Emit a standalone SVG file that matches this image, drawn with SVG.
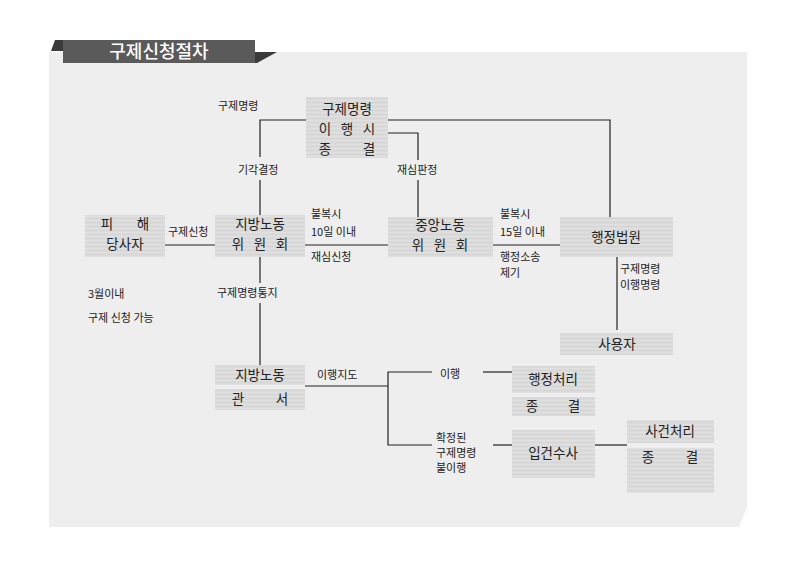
<svg xmlns="http://www.w3.org/2000/svg" width="800" height="570" viewBox="0 0 800 570">
<defs>
<pattern id="stripe" width="8" height="4" patternUnits="userSpaceOnUse">
<rect width="8" height="4" fill="#dbdbdb"/>
<rect y="0" width="8" height="1" fill="#e0e0e0"/>
<rect y="2" width="8" height="1" fill="#d6d6d6"/>
</pattern>
<style>
.box{fill:url(#stripe);}
.bt{font-family:"Noto Sans CJK KR","Noto Sans",sans-serif;font-size:13.5px;fill:#222;text-anchor:middle;}
.lb{font-family:"Noto Sans CJK KR","Noto Sans",sans-serif;font-size:11px;fill:#222;}
.ln{stroke:#222;stroke-width:1.2;fill:none;}
</style>
</defs>
<rect width="800" height="570" fill="#ffffff"/>
<g id="panel">
<polygon points="49,52 747,52 747,507 739,527 49,527" fill="#eeeeee"/>
</g>
<g id="title">
<polygon points="51,51 55,40 63,40 63,51" fill="#3a3a3a"/>
<polygon points="255,52 277,52 257,63 255,63" fill="#3a3a3a"/>
<rect x="63" y="40" width="192" height="23" fill="#5a5a5a"/>
<text x="159" y="58" font-family="'Noto Sans CJK KR','Noto Sans',sans-serif" font-size="18" font-weight="500" fill="#ffffff" text-anchor="middle">구제신청절차</text>
</g>
<g id="connectors">
<polyline class="ln" points="306,120 260,120 260,157"/>
<line class="ln" x1="260" y1="180" x2="260" y2="215"/>
<polyline class="ln" points="388,120 610,120 610,217"/>
<polyline class="ln" points="388,133 418,133 418,160"/>
<line class="ln" x1="418" y1="180" x2="418" y2="217"/>
<line class="ln" x1="165" y1="245" x2="215" y2="245"/>
<line class="ln" x1="305" y1="245" x2="388" y2="245"/>
<line class="ln" x1="493" y1="245" x2="560" y2="245"/>
<line class="ln" x1="617" y1="257" x2="617" y2="330"/>
<line class="ln" x1="260" y1="257" x2="260" y2="283"/>
<line class="ln" x1="260" y1="303" x2="260" y2="365"/>
<polyline class="ln" points="305,386 388,386"/>
<polyline class="ln" points="432,372 388,372 388,445 432,445"/>
<line class="ln" x1="483" y1="372" x2="512" y2="372"/>
<line class="ln" x1="493" y1="445" x2="512" y2="445"/>
<line class="ln" x1="595" y1="445" x2="627" y2="445"/>
</g>
<g id="labels">
<text class="lb" x="218" y="110">구제명령</text>
<text class="lb" x="238" y="174">기각결정</text>
<text class="lb" x="397" y="174">재심판정</text>
<text class="lb" x="168" y="236">구제신청</text>
<text class="lb" x="311" y="218">불복시</text>
<text class="lb" x="311" y="236">10일 이내</text>
<text class="lb" x="311" y="261">재심신청</text>
<text class="lb" x="500" y="218">불복시</text>
<text class="lb" x="500" y="236">15일 이내</text>
<text class="lb" x="500" y="261">행정소송</text>
<text class="lb" x="500" y="277">제기</text>
<text class="lb" x="620" y="273">구제명령</text>
<text class="lb" x="620" y="289">이행명령</text>
<text class="lb" x="88" y="298">3월이내</text>
<text class="lb" x="88" y="322">구제 신청 가능</text>
<text class="lb" x="217" y="297">구제명령통지</text>
<text class="lb" x="317" y="379">이행지도</text>
<text class="lb" x="440" y="378">이행</text>
<text class="lb" x="436" y="442">확정된</text>
<text class="lb" x="436" y="457">구제명령</text>
<text class="lb" x="436" y="472">불이행</text>
</g>
<g id="n_final">
<rect class="box" x="306" y="97" width="82" height="61"/>
<text class="bt" x="347" y="114">구제명령</text>
<text class="bt" x="325" y="134">이</text><text class="bt" x="347" y="134">행</text><text class="bt" x="369" y="134">시</text>
<text class="bt" x="325" y="154">종</text><text class="bt" x="369" y="154">결</text>
</g>
<g id="n_victim">
<rect class="box" x="85" y="215" width="80" height="42"/>
<text class="bt" x="107" y="229">피</text><text class="bt" x="143" y="229">해</text>
<text class="bt" x="125" y="249">당사자</text>
</g>
<g id="n_local">
<rect class="box" x="215" y="215" width="90" height="42"/>
<text class="bt" x="260" y="229">지방노동</text>
<text class="bt" x="238" y="249">위</text><text class="bt" x="260" y="249">원</text><text class="bt" x="282" y="249">회</text>
</g>
<g id="n_central">
<rect class="box" x="388" y="217" width="105" height="40"/>
<text class="bt" x="440" y="230">중앙노동</text>
<text class="bt" x="418" y="250">위</text><text class="bt" x="440" y="250">원</text><text class="bt" x="462" y="250">회</text>
</g>
<g id="n_court">
<rect class="box" x="560" y="217" width="113" height="40"/>
<text class="bt" x="616" y="242">행정법원</text>
</g>
<g id="n_employer">
<rect class="box" x="560" y="333" width="113" height="22"/>
<text class="bt" x="617" y="349">사용자</text>
</g>
<g id="n_office">
<rect class="box" x="215" y="365" width="90" height="20"/>
<rect class="box" x="215" y="389" width="90" height="21"/>
<text class="bt" x="260" y="380">지방노동</text>
<text class="bt" x="238" y="404">관</text><text class="bt" x="282" y="404">서</text>
</g>
<g id="n_admin">
<rect class="box" x="512" y="366" width="83" height="27"/>
<rect class="box" x="512" y="397" width="83" height="19"/>
<text class="bt" x="553" y="384">행정처리</text>
<text class="bt" x="532" y="411">종</text><text class="bt" x="574" y="411">결</text>
</g>
<g id="n_invest">
<rect class="box" x="512" y="430" width="83" height="48"/>
<text class="bt" x="553" y="458">입건수사</text>
</g>
<g id="n_case">
<rect class="box" x="627" y="420" width="87" height="23"/>
<rect class="box" x="627" y="448" width="87" height="45"/>
<text class="bt" x="670" y="436">사건처리</text>
<text class="bt" x="648" y="462">종</text><text class="bt" x="692" y="462">결</text>
</g>
</svg>
